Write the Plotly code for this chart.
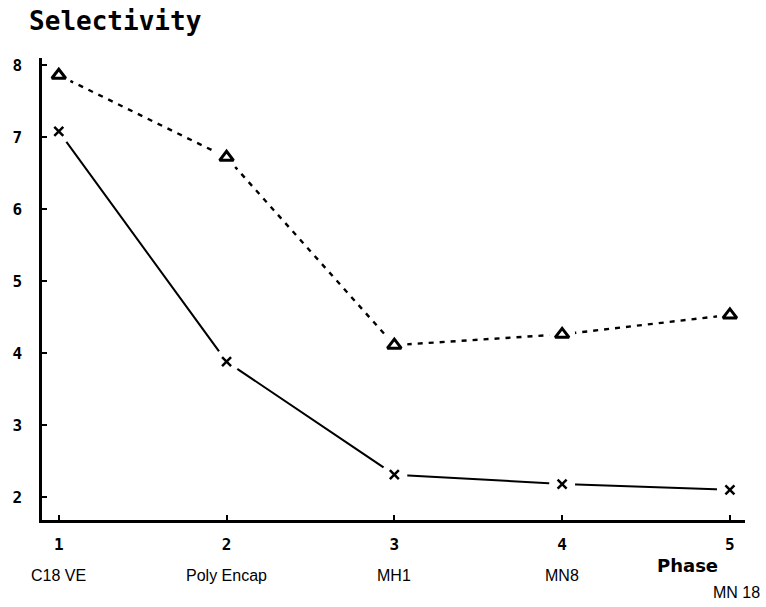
import plotly.graph_objects as go

phase = [1, 2, 3, 4, 5]
phase_names = ["C18 VE", "Poly Encap", "MH1", "MN8", "MN 18"]
sel_triangle = [7.86, 6.72, 4.11, 4.26, 4.53]
sel_cross = [7.08, 3.88, 2.31, 2.18, 2.10]
y_ticks = [2, 3, 4, 5, 6, 7, 8]

halo = dict(symbol="circle", size=26, color="#ffffff", opacity=1, line=dict(width=0))

fig = go.Figure()
# the connecting lines
fig.add_trace(go.Scatter(x=phase, y=sel_triangle, mode="lines", opacity=1,
                         line=dict(color="black", width=2.4, dash="5px,6px"), showlegend=False))
fig.add_trace(go.Scatter(x=phase, y=sel_cross, mode="lines", opacity=1,
                         line=dict(color="black", width=2), showlegend=False))
# white halos leaving small gaps around the symbols, then the symbols
fig.add_trace(go.Scatter(x=phase, y=sel_triangle, mode="markers", marker=halo, showlegend=False))
fig.add_trace(go.Scatter(x=phase, y=sel_cross, mode="markers", marker=halo, showlegend=False))
fig.add_trace(go.Scatter(x=phase, y=sel_triangle, mode="markers",
                         marker=dict(symbol="triangle-up-open", size=12, color="black",
                                     line=dict(color="black", width=3)), showlegend=False))
fig.add_trace(go.Scatter(x=phase, y=sel_cross, mode="markers",
                         marker=dict(symbol="x-thin-open", size=9, color="black",
                                     line=dict(color="black", width=2.5)), showlegend=False))

x_range = [0.9, 5.09]
y_range = [1.68, 8.1]
tickfont = dict(family="DejaVu Sans Mono", size=16, color="black")
fig.update_layout(
    xaxis=dict(range=x_range, tickvals=phase, ticktext=[f"<b>{p}</b>" for p in phase],
               showgrid=False, zeroline=False, showline=True, linecolor="black", linewidth=2.5,
               ticks="inside", ticklen=5, tickwidth=1.5, tickcolor="black", tickfont=tickfont,
               ticklabelstandoff=8),
    yaxis=dict(range=y_range, tickvals=y_ticks, ticktext=[f"<b>{v}</b>" for v in y_ticks],
               showgrid=False, zeroline=False, showline=True, linecolor="black", linewidth=2.5,
               ticks="inside", ticklen=5, tickwidth=1.5, tickcolor="black", tickfont=tickfont,
               ticklabelstandoff=14),
)

namefont = dict(family="Liberation Sans", size=16, color="black")
annotations = []
for i, (p, name) in enumerate(zip(phase, phase_names)):
    if i < 4:
        annotations.append(dict(x=p, y=-0.12, xref="x", yref="paper", text=name, showarrow=False,
                                font=namefont, xanchor="center", yanchor="middle"))
    else:
        annotations.append(dict(x=p + 0.04, y=-0.158, xref="x", yref="paper", text=name,
                                showarrow=False, font=namefont, xanchor="center", yanchor="middle"))
annotations.append(dict(x=4.75, y=-0.098, xref="x", yref="paper", text="<b>Phase</b>",
                        showarrow=False, font=dict(family="DejaVu Sans", size=18, color="black"),
                        xanchor="center", yanchor="middle"))

fig.update_layout(
    width=766, height=607,
    margin=dict(l=40, r=21, t=58, b=87),
    plot_bgcolor="white", paper_bgcolor="white",
    title=dict(text="<b>Selectivity</b>", x=0.038, xanchor="left", y=0.965, yanchor="middle",
               font=dict(family="DejaVu Sans Mono", size=26, color="black")),
    annotations=annotations,
)
fig.write_html("out.html")
